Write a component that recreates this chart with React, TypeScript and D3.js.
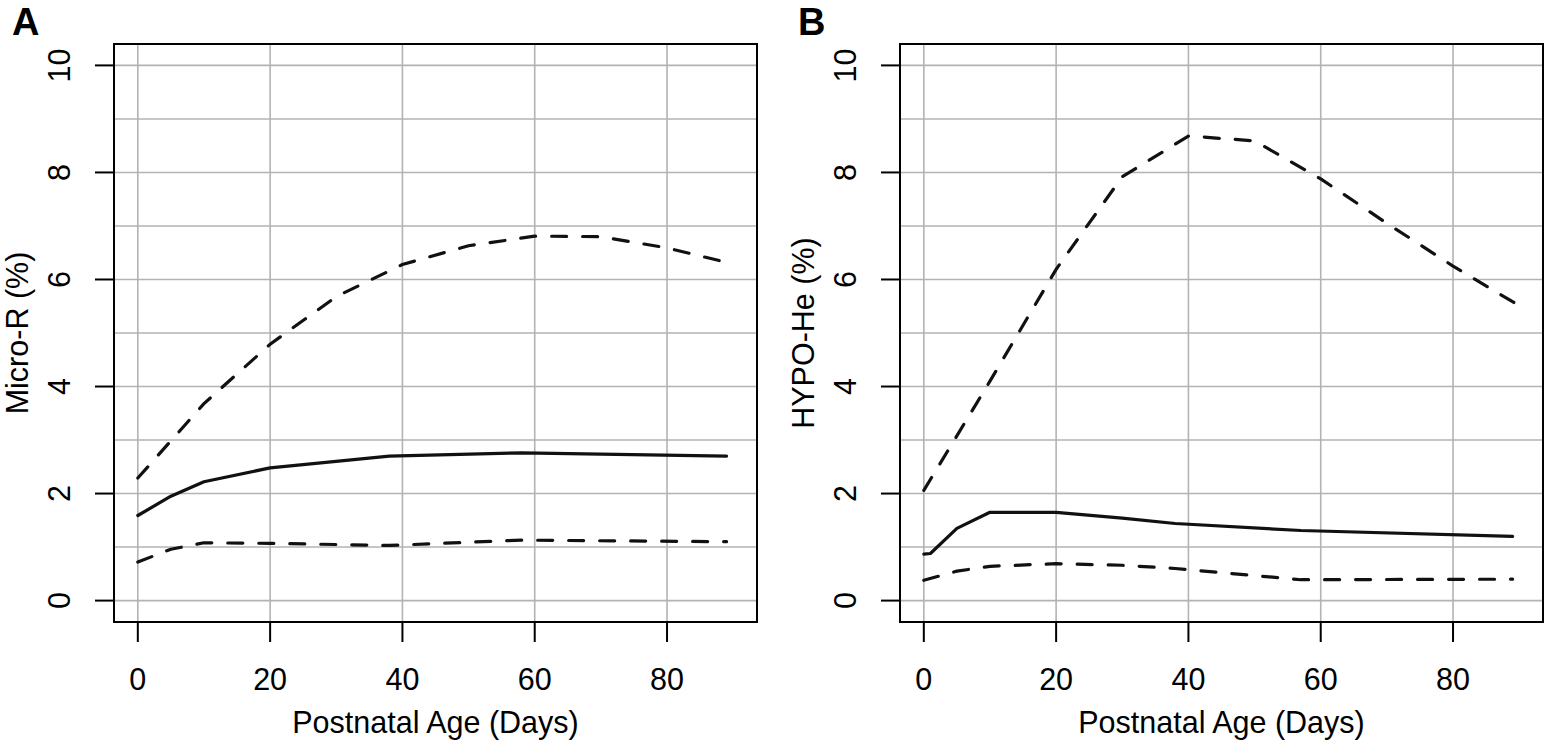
import React from "react";
import * as d3 from "d3";

// ---- Data ----
const xTicks = [0, 20, 40, 60, 80];
const yTicks = [0, 2, 4, 6, 8, 10];
const yGrid = [0, 1, 2, 3, 4, 5, 6, 7, 8, 9, 10];

const aSolidDays = [0, 5, 10, 20, 38, 58, 89];
const aSolid = [1.59, 1.95, 2.22, 2.48, 2.7, 2.76, 2.7];
const aUpperDays = [0, 10, 20, 30, 40, 50, 60, 70, 80, 89];
const aUpper = [2.29, 3.68, 4.79, 5.68, 6.28, 6.63, 6.81, 6.8, 6.59, 6.32];
const aLowerDays = [0, 5, 10, 20, 38, 58, 89];
const aLower = [0.72, 0.96, 1.08, 1.07, 1.03, 1.13, 1.1];

const bSolidDays = [0, 1, 5, 10, 20, 30, 38, 57, 89];
const bSolid = [0.87, 0.88, 1.35, 1.65, 1.65, 1.54, 1.44, 1.31, 1.2];
const bUpperDays = [0, 10, 20, 30, 40, 50, 60, 70, 80, 90];
const bUpper = [2.06, 4.1, 6.19, 7.92, 8.68, 8.59, 7.88, 7.05, 6.25, 5.51];
const bLowerDays = [0, 5, 10, 20, 30, 38, 57, 89];
const bLower = [0.38, 0.55, 0.64, 0.69, 0.66, 0.6, 0.39, 0.4];

const panels = [
  {
    letter: "A",
    yTitle: "Micro-R (%)",
    left: 114,
    solid: [aSolidDays, aSolid],
    upper: [aUpperDays, aUpper],
    lower: [aLowerDays, aLower],
  },
  {
    letter: "B",
    yTitle: "HYPO-He (%)",
    left: 900,
    solid: [bSolidDays, bSolid],
    upper: [bUpperDays, bUpper],
    lower: [bLowerDays, bLower],
  },
];

const W = 1545;
const H = 742;
const TOP = 44;
const BOTTOM = 622;
const PW = 643;
const FONT = "'Liberation Sans', Arial, Helvetica, sans-serif";
const FS = 30.5;

function Panel({ p }: { p: any }) {
  const x = d3.scaleLinear().domain([-3.6, 93.6]).range([p.left, p.left + PW]);
  const y = d3.scaleLinear().domain([-0.4, 10.4]).range([BOTTOM, TOP]);
  const mk = (pair: number[][]) =>
    d3
      .line<number>()
      .x((_, i) => x(pair[0][i]))
      .y((v) => y(v))(pair[1]) || "";
  const right = p.left + PW;
  const cy = (y(0) + y(10)) / 2;
  const cx = (x(-3.6) + x(93.6)) / 2;
  return (
    <g>
      <text x={p.left - 102} y={35} fontFamily={FONT} fontWeight="bold" fontSize={38}>
        {p.letter}
      </text>
      {/* grid */}
      {yGrid.map((v) => (
        <line key={"gy" + v} x1={p.left} x2={right} y1={y(v)} y2={y(v)} stroke="#b3b3b3" strokeWidth={1.6} />
      ))}
      {xTicks.map((v) => (
        <line key={"gx" + v} x1={x(v)} x2={x(v)} y1={TOP} y2={BOTTOM} stroke="#b3b3b3" strokeWidth={1.6} />
      ))}
      {/* data */}
      <path d={mk(p.solid)} fill="none" stroke="#111" strokeWidth={3.2} strokeLinejoin="round" strokeLinecap="round" />
      <path d={mk(p.upper)} fill="none" stroke="#111" strokeWidth={3.2} strokeDasharray="15 16" strokeLinejoin="round" strokeLinecap="round" />
      <path d={mk(p.lower)} fill="none" stroke="#111" strokeWidth={3.2} strokeDasharray="15 16" strokeLinejoin="round" strokeLinecap="round" />
      {/* box */}
      <rect x={p.left} y={TOP} width={PW} height={BOTTOM - TOP} fill="none" stroke="#000" strokeWidth={2} />
      {/* x axis */}
      {xTicks.map((v) => (
        <g key={"xt" + v}>
          <line x1={x(v)} x2={x(v)} y1={BOTTOM} y2={BOTTOM + 20} stroke="#000" strokeWidth={2} />
          <text x={x(v)} y={690} textAnchor="middle" fontFamily={FONT} fontSize={FS}>
            {v}
          </text>
        </g>
      ))}
      <text x={cx} y={733} textAnchor="middle" fontFamily={FONT} fontSize={FS}>
        Postnatal Age (Days)
      </text>
      {/* y axis */}
      {yTicks.map((v) => (
        <g key={"yt" + v}>
          <line x1={p.left - 19} x2={p.left} y1={y(v)} y2={y(v)} stroke="#000" strokeWidth={2} />
          <text
            transform={`translate(${p.left - 44},${y(v)}) rotate(-90)`}
            textAnchor="middle"
            fontFamily={FONT}
            fontSize={FS}
          >
            {v}
          </text>
        </g>
      ))}
      <text
        transform={`translate(${p.left - 86},${cy}) rotate(-90)`}
        textAnchor="middle"
        fontFamily={FONT}
        fontSize={FS}
      >
        {p.yTitle}
      </text>
    </g>
  );
}

export default function App() {
  return (
    <svg width={W} height={H} style={{ position: "absolute", left: 0, top: 0, background: "#fff" }}>
      <rect x={0} y={0} width={W} height={H} fill="#fff" />
      {panels.map((p) => (
        <Panel key={p.letter} p={p} />
      ))}
    </svg>
  );
}
